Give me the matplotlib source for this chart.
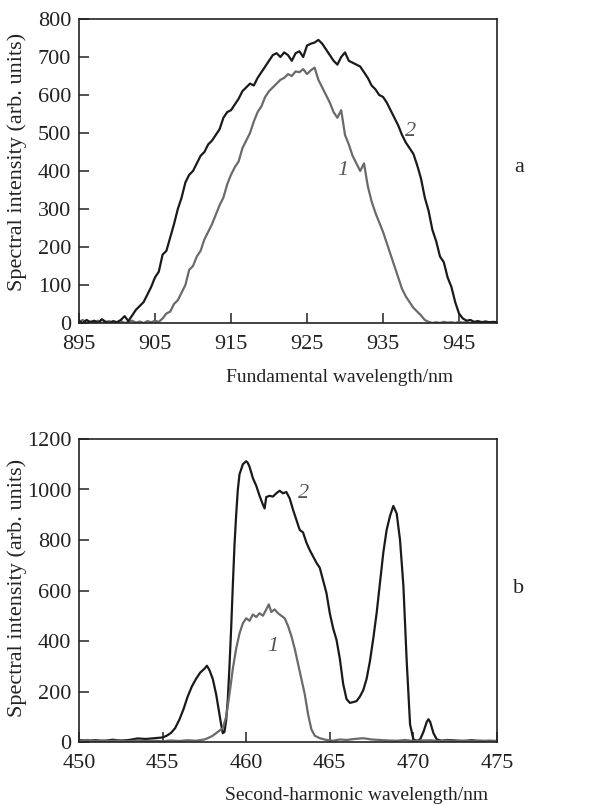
import matplotlib
matplotlib.use("Agg")
import matplotlib.pyplot as plt
import numpy as np

plt.rcParams['font.family'] = ['Liberation Serif', 'DejaVu Serif']

# ---------------- Panel a data ----------------
xa = np.arange(895.0, 950.01, 0.5)
ya2 = [5, 0, 8, 2, 6, 0, 10, 3, 0, 5, 2, 8, 18, 5, 20, 35, 45, 55, 75, 95,
       120, 135, 180, 190, 225, 260, 300, 330, 370, 390, 400, 420, 440, 450, 470, 480,
       495, 510, 540, 555, 560, 575, 590, 610, 620, 630, 625, 645, 660, 675,
       690, 705, 710, 700, 712, 705, 690, 710, 715, 700, 730, 735, 738, 745,
       735, 720, 705, 690, 680, 700, 712, 690, 685, 680, 675, 660, 645, 625,
       615, 600, 595, 580, 560, 540, 520, 495, 475, 460, 445, 415, 380, 330,
       295, 245, 215, 175, 160, 120, 95, 55, 25, 12, 6, 8, 3, 5, 2, 4, 2, 3, 2]
ya1 = [3, 8, 0, 4, 2, 6, 0, 3, 5, 0, 2, 5, 0, 3, 6, 1, 4, 0, 5, 2,
       6, 3, 12, 25, 30, 50, 60, 80, 100, 140, 150, 175, 190, 220, 240, 260,
       285, 310, 330, 365, 390, 410, 425, 460, 480, 500, 530, 555, 570, 595,
       610, 620, 630, 640, 645, 655, 650, 662, 660, 668, 655, 665, 672, 640,
       620, 600, 580, 555, 540, 560, 495, 470, 440, 420, 400, 420, 360, 320,
       290, 265, 240, 210, 180, 150, 120, 90, 70, 55, 40, 30, 20, 8, 3, 0,
       2, 0, 3, 1, 2, 0, 3, 1, 2, 0, 2, 1, 3, 0, 2, 1, 2]

# ---------------- Panel b data ----------------
xb2 = [450, 450.5, 451, 451.5, 452, 452.5, 453, 453.5, 454, 454.5, 455, 455.25, 455.5, 455.75,
       456, 456.25, 456.5, 456.75, 457, 457.25, 457.5, 457.65, 457.8, 458, 458.2, 458.35, 458.5,
       458.6, 458.7, 458.8, 458.9, 459, 459.1, 459.2, 459.3, 459.4, 459.5, 459.6, 459.8, 460,
       460.1, 460.2, 460.4, 460.6, 460.8, 461, 461.1, 461.2, 461.4, 461.6, 461.8, 462, 462.2,
       462.4, 462.6, 462.8, 463, 463.2, 463.4, 463.6, 463.8, 464, 464.2, 464.4, 464.6, 464.8,
       465, 465.2, 465.4, 465.6, 465.8, 466, 466.2, 466.4, 466.6, 466.8, 467, 467.2, 467.4,
       467.6, 467.8, 468, 468.2, 468.4, 468.6, 468.8, 469, 469.2, 469.4, 469.6, 469.8, 470,
       470.2, 470.4, 470.6, 470.8, 470.9, 471, 471.2, 471.4, 471.7, 472, 472.5, 473, 473.5,
       474, 474.5, 475]
yb2 = [8, 5, 7, 4, 9, 6, 8, 14, 12, 15, 18, 25, 36, 55,
       88, 130, 180, 220, 250, 275, 290, 302, 285, 250, 190, 130, 70,
       35, 40, 85, 170, 300, 450, 620, 780, 900, 1000, 1060, 1100, 1112,
       1105, 1090, 1045, 1015, 975, 940, 925, 970, 975, 972, 985, 995, 985,
       990, 965, 920, 880, 840, 830, 790, 760, 735, 710, 690, 640, 590,
       510, 450, 405, 330, 230, 170, 155, 158, 162, 180, 205, 250, 320,
       410, 510, 630, 750, 840, 895, 935, 905, 800, 620, 320, 70, 10,
       5, 10, 40, 80, 90, 80, 35, 10, 5, 8, 6, 4, 7,
       3, 5, 4]
xb1 = [450, 450.5, 451, 451.5, 452, 452.5, 453, 453.5, 454, 454.5, 455, 455.5, 456, 456.5,
       457, 457.5, 457.8, 458, 458.3, 458.6, 458.8, 459, 459.2, 459.4, 459.6, 459.8, 460,
       460.2, 460.4, 460.6, 460.8, 461, 461.2, 461.35, 461.5, 461.7, 461.9, 462.1, 462.3,
       462.5, 462.7, 462.9, 463.1, 463.3, 463.5, 463.7, 463.9, 464.1, 464.4, 464.8, 465.2,
       465.6, 466, 466.5, 467, 467.5, 468, 468.5, 469, 469.5, 470, 470.5, 471, 471.5, 472,
       472.5, 473, 473.5, 474, 474.5, 475]
yb1 = [5, 8, 3, 6, 4, 7, 3, 6, 4, 5, 3, 6, 4, 7,
       5, 10, 18, 25, 40, 55, 100, 190, 290, 370, 430, 470, 490,
       480, 505, 495, 510, 500, 525, 545, 515, 525, 510, 500, 490,
       460, 420, 370, 310, 250, 190, 110, 50, 25, 15, 8, 5,
       10, 8, 12, 15, 10, 8, 6, 5, 8, 4, 6, 7, 4, 6,
       3, 5, 4, 6, 3, 4]

xticks_a = [895, 905, 915, 925, 935, 945]
yticks_a = [0, 100, 200, 300, 400, 500, 600, 700, 800]
xticks_b = [450, 455, 460, 465, 470, 475]
yticks_b = [0, 200, 400, 600, 800, 1000, 1200]

W, H = 611, 805
fig = plt.figure(figsize=(W / 100, H / 100), dpi=100)

BLACK = '#1a1a1a'
GRAY = '#6a6a6a'
TFS = 16
LFS = 14

def style(ax, xt, yt, xl, yl):
    ax.set_xlim(*xl)
    ax.set_ylim(*yl)
    ax.set_xticks(xt)
    ax.set_yticks(yt)
    ax.tick_params(direction='in', length=7, width=1.1, labelsize=TFS, pad=5,
                   top=False, right=False, colors='#222222')
    ax.tick_params(axis='x', pad=8.5)
    ax.tick_params(axis='y', pad=5.5)
    for s in ax.spines.values():
        s.set_linewidth(1.2)
        s.set_color('#222222')

axa = fig.add_axes([79 / W, 1 - 323 / H, (497 - 79) / W, (323 - 19) / H])
axa.plot(xa, ya1, color=GRAY, lw=1.6)
axa.plot(xa, ya2, color=BLACK, lw=1.6)
style(axa, xticks_a, yticks_a, (895, 950), (0, 800))
axa.text(929.7, 400, '1', fontsize=16, style='italic', color='#555555', ha='center', va='center')
axa.text(938.6, 503, '2', fontsize=16, style='italic', color='#555555', ha='center', va='center')

axb = fig.add_axes([79 / W, 1 - 742 / H, (497 - 79) / W, (742 - 439) / H])
axb.plot(xb2, yb2, color=BLACK, lw=1.6)
axb.plot(xb1, yb1, color=GRAY, lw=1.6)
style(axb, xticks_b, yticks_b, (450, 475), (0, 1200))
axb.text(461.6, 379, '1', fontsize=16, style='italic', color='#555555', ha='center', va='center')
axb.text(463.4, 985, '2', fontsize=16, style='italic', color='#555555', ha='center', va='center')

fig.text(17 / W, 1 - 162 / H, 'Spectral intensity (arb. units)', rotation=90,
         fontsize=16, ha='center', va='center', color='#222222')
fig.text(17 / W, 1 - 588 / H, 'Spectral intensity (arb. units)', rotation=90,
         fontsize=16, ha='center', va='center', color='#222222')
fig.text(340 / W, 1 - 378 / H, 'Fundamental wavelength/nm', fontsize=LFS,
         ha='center', va='center', color='#222222')
fig.text(357 / W, 1 - 795 / H, 'Second-harmonic wavelength/nm', fontsize=LFS,
         ha='center', va='center', color='#222222')
fig.text(519 / W, 1 - 168 / H, 'a', fontsize=16, ha='center', va='center', color='#222222')
fig.text(519 / W, 1 - 588 / H, 'b', fontsize=16, ha='center', va='center', color='#222222')

fig.savefig('out.png', dpi=100)
